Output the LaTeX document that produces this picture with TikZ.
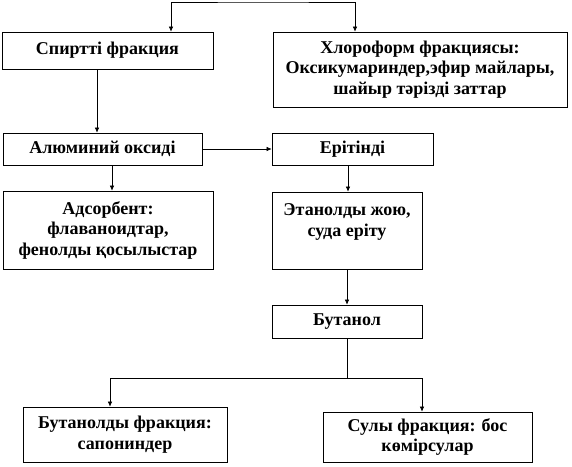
\documentclass[tikz,border=0pt]{standalone}
\usepackage{fontspec}
\setmainfont{Liberation Serif}
\usetikzlibrary{positioning,arrows.meta}

\begin{document}
\begin{tikzpicture}[
x=1pt, y=-1pt,
box/.style={
draw,
fill=white,
line width=0.7pt,
inner sep=2pt,
align=center,
font=\bfseries\fontsize{18}{20.5}\selectfont
},
>={Latex[length=5pt,width=4.5pt]},
line width=0.6pt
]
\useasboundingbox (0,0) rectangle (572,466);

\node[box, minimum width=211pt, minimum height=37pt] (spirt) at (107.5,50.5) {Спиртті фракция};

\node[box, minimum width=294pt, minimum height=75pt] (chloro) at (420,69.5) {Хлороформ фракциясы:\\ Оксикумариндер,эфир майлары,\\ шайыр тәрізді заттар};

\node[box, minimum width=199pt, minimum height=32pt] (alum) at (102.5,149) {Алюминий оксиді};

\node[box, minimum width=161pt, minimum height=32pt] (erit) at (352.5,149) {Ерітінді};

\node[box, minimum width=210pt, minimum height=78pt] (adsorb) at (108,230) {Адсорбент:\\ флаваноидтар,\\ фенолды қосылыстар};

\node[box, minimum width=150pt, minimum height=77pt] (ethan) at (347,230.5) {Этанолды жою,\\ суда еріту\\ ~};

\node[box, minimum width=150pt, minimum height=33pt] (butanol) at (347,321.5) {Бутанол};

\node[box, minimum width=204pt, minimum height=55pt] (butfr) at (125,434.5) {Бутанолды фракция:\\ сапониндер};

\node[box, minimum width=209pt, minimum height=50pt] (sulu) at (427.5,437) {Сулы фракция: бос\\ көмірсулар};

% split at the top
\coordinate (top) at (263,2);
\draw[<->] ([xshift=63.5pt]spirt.north) |- (top) -| ([xshift=-65pt]chloro.north);

\draw[->] ([xshift=-10.5pt]spirt.south) -- ([xshift=-5.5pt]alum.north);
\draw[->] (alum.east) -- (erit.west);
\draw[->] ([xshift=9.5pt]alum.south) -- ([xshift=4pt]adsorb.north);
\draw[->] ([xshift=-4.5pt]erit.south) -- ([xshift=1pt]ethan.north);
\draw[->] (ethan.south) -- (butanol.north);

% split below
\draw (butanol.south) -- ++(0,40) coordinate (fork);
\draw[->] (fork) -| ([xshift=-15pt]butfr.north);
\draw[->] (fork) -| ([xshift=-5.5pt]sulu.north);

\end{tikzpicture}
\end{document}
